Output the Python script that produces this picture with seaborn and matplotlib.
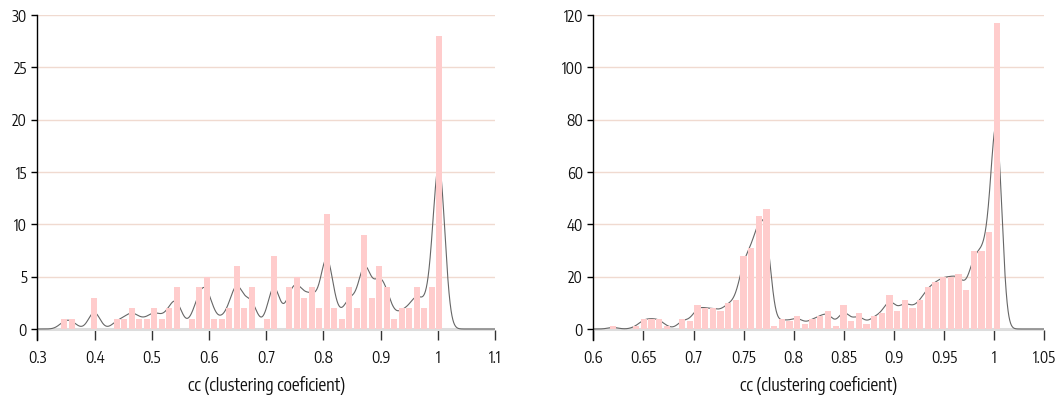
import numpy as np
import pandas as pd
import matplotlib
matplotlib.use("Agg")
import matplotlib.pyplot as plt
from matplotlib import font_manager
import seaborn as sns

# ---- data (bar heights, 51 bins each) ----
left_counts = [1, 1, 0, 0, 3, 0, 0, 1, 1, 2, 1, 1, 2, 1, 2, 4, 0, 1, 4, 5,
               1, 1, 2, 6, 2, 4, 0, 1, 7, 0, 4, 5, 3, 4, 2, 11, 2, 1, 4, 2,
               9, 3, 6, 4, 1, 2, 2, 4, 2, 4, 28]
right_counts = [1, 0, 0, 1, 4, 4, 4, 1, 0, 4, 3, 9, 8, 8, 7, 10, 11, 28, 31, 43,
                46, 1, 4, 3, 5, 2, 4, 5, 7, 1, 9, 3, 6, 2, 5, 6, 13, 7, 11, 8,
                11, 16, 18, 20, 20, 21, 15, 30, 30, 37, 117]
left_bin_range = (0.347, 1.0025)     # first / last bin centre
right_bin_range = (0.6197, 1.0027)

left_xticks = [0.3, 0.4, 0.5, 0.6, 0.7, 0.8, 0.9, 1.0, 1.1]
left_xticklabels = ["0.3", "0.4", "0.5", "0.6", "0.7", "0.8", "0.9", "1", "1.1"]
left_yticks = [0, 5, 10, 15, 20, 25, 30]
right_xticks = [0.6, 0.65, 0.7, 0.75, 0.8, 0.85, 0.9, 0.95, 1.0, 1.05]
right_xticklabels = ["0.6", "0.65", "0.7", "0.75", "0.8", "0.85", "0.9", "0.95", "1", "1.05"]
right_yticks = [0, 20, 40, 60, 80, 100, 120]
xlabel_text = "cc (clustering coeficient)"

sns.set_theme(style="white")

# pick a narrow sans if one is installed
names = {f.name for f in font_manager.fontManager.ttflist}
narrow = [n for n in sorted(names) if ("Narrow" in n or "Condensed" in n)
          and ("Sans" in n or "Arial" in n or "Helvetica" in n)]
condensed_files = [f for f in font_manager.fontManager.ttflist
                   if f.name in ("DejaVu Sans", "Liberation Sans")
                   and str(f.stretch) in ("condensed", "semi-condensed", "75", "87")]
FONT_STRETCH = "normal"
if narrow:
    family = narrow[:1] + ["DejaVu Sans"]
    TICK_FS, LAB_FS = 11, 12.5
elif condensed_files:
    family = [condensed_files[0].name, "DejaVu Sans"]
    FONT_STRETCH = "condensed"
    TICK_FS, LAB_FS = 10.5, 12
else:
    family = ["Liberation Sans", "DejaVu Sans"]
    TICK_FS, LAB_FS = 10, 11.5
plt.rcParams['font.family'] = family
plt.rcParams['font.stretch'] = FONT_STRETCH

BAR = "#FFCCCC"
LINE = "#666666"
GRID = "#F0DAD0"

fig = plt.figure(figsize=(10.64, 3.98), dpi=100)
ax1 = fig.add_axes([0.0351, 0.1457, 0.4302, 0.8166])
ax2 = fig.add_axes([0.5576, 0.1457, 0.4239, 0.8166])


def panel(ax, counts, rng, bw, xlim, ylim, xticks, xlabels, yticks):
    counts = np.asarray(counts, float)
    n = len(counts)
    centers = np.linspace(rng[0], rng[1], n)
    w = centers[1] - centers[0]
    df = pd.DataFrame({"cc": centers, "n": counts})
    std = np.sqrt(np.cov(centers, aweights=counts))
    sns.histplot(data=df, x="cc", weights="n", bins=n,
                 binrange=(rng[0] - w / 2, rng[1] + w / 2), shrink=0.82,
                 color=BAR, alpha=1, edgecolor="none", linewidth=0,
                 kde=True,
                 kde_kws=dict(bw_method=bw / std, cut=25, gridsize=4000),
                 ax=ax)
    for ln in ax.lines:
        ln.set_color(LINE)
        ln.set_linewidth(0.8)
        ln.set_zorder(1.5)
    for p in ax.patches:
        p.set_zorder(2)
    ax.set_xlim(*xlim)
    ax.set_ylim(*ylim)
    ax.set_xticks(xticks)
    ax.set_xticklabels(xlabels)
    ax.set_yticks(yticks)
    ax.set_yticklabels([str(v) for v in yticks])
    ax.yaxis.grid(True, color=GRID, linewidth=1.0, zorder=0)
    ax.set_axisbelow(True)
    gl = ax.get_ygridlines()
    gl[0].set_color("#DDDDDD")
    gl[0].set_linewidth(2.2)
    for s in ["top", "right", "bottom"]:
        ax.spines[s].set_visible(False)
    ax.spines["left"].set_color("black")
    ax.spines["left"].set_linewidth(1.0)
    ax.tick_params(axis="x", direction="in", length=7, width=1.0,
                   color="#333333", pad=7, labelsize=TICK_FS,
                   labelcolor="#111111", bottom=True)
    ax.tick_params(axis="y", direction="out", length=4.5, width=1.0,
                   color="black", pad=3, labelsize=TICK_FS,
                   labelcolor="#111111", left=True)
    ax.set_ylabel("")
    ax.set_xlabel(xlabel_text, fontsize=LAB_FS, labelpad=7, color="#111111")


panel(ax1, left_counts, left_bin_range, 0.0100, (0.3, 1.1), (-1.05, 30),
      left_xticks, left_xticklabels, left_yticks)
panel(ax2, right_counts, right_bin_range, 0.0052, (0.6, 1.05), (-4.2, 120),
      right_xticks, right_xticklabels, right_yticks)

fig.savefig("out.png", dpi=100, facecolor="white")
